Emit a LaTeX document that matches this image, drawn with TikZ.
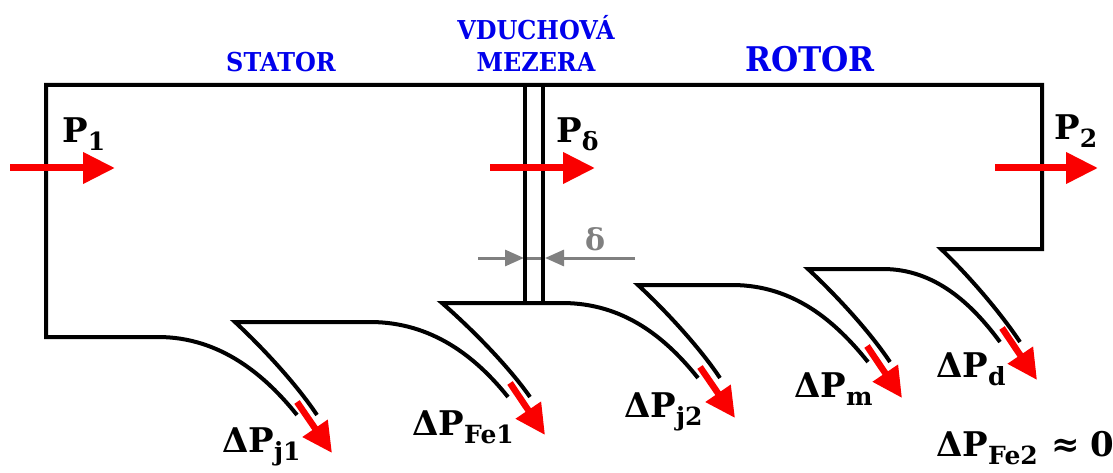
\documentclass[tikz,border=0pt]{standalone}
\usepackage{fontspec}
\usetikzlibrary{arrows.meta,calc}
\newfontfamily\ttlfont{DejaVu Serif}[FakeStretch=0.92]
\newfontfamily\lblfont{DejaVu Serif}
\definecolor{ttlblue}{RGB}{0,0,235}
\definecolor{arrred}{RGB}{250,0,0}
\definecolor{dimgray}{RGB}{128,128,128}
\newcommand\plbl[2]{#1\raisebox{-8pt}{\fontsize{25}{25}\selectfont #2}}
\begin{document}
\begin{tikzpicture}[x=1pt,y=-1pt,
  outline/.style={line width=4pt, black, line join=miter},
  flow/.style={line width=7pt, arrred, -{Triangle[length=32pt,width=30pt]}},
  loss/.style={line width=6.5pt, arrred, -{Triangle[length=30pt,width=29pt]}},
  gapdim/.style={line width=3pt, dimgray},
  gaptip/.style={line width=3pt, dimgray, -{Triangle[length=19pt,width=16pt]}},
  lbl/.style={inner sep=0pt, anchor=base west, font=\lblfont\bfseries\fontsize{34}{34}\selectfont},
  ttl/.style={inner sep=0pt, anchor=base, text=ttlblue, font=\ttlfont\bfseries\fontsize{26}{26}\selectfont}]
\useasboundingbox (0,0) rectangle (1113,473);

% ---- outline corners
\coordinate (tl) at (46,85);
\coordinate (tr) at (1042,85);
\coordinate (br) at (1042,249);
\coordinate (bl) at (46,337);
% stator bottom / j1
\coordinate (s1) at (158,337);  \coordinate (e1) at (297,415);
\coordinate (c1) at (235,322);  \coordinate (f1) at (317,415);
% Fe1
\coordinate (s2) at (370,322);  \coordinate (e2) at (508,397);
\coordinate (c2) at (442,303);  \coordinate (f2) at (530,397);
% j2
\coordinate (s3) at (562,303);  \coordinate (e3) at (698,378);
\coordinate (c3) at (638,285);  \coordinate (f3) at (720,378);
% m
\coordinate (s4) at (732,285);  \coordinate (e4) at (868,362);
\coordinate (c4) at (808,269);  \coordinate (f4) at (890,362);
% d
\coordinate (s5) at (883,269);  \coordinate (e5) at (1000,342);
\coordinate (c5) at (941,249);  \coordinate (f5) at (1020,342);
% air gap
\coordinate (g1t) at (525,85); \coordinate (g1b) at (525,303);
\coordinate (g2t) at (543,85); \coordinate (g2b) at (543,303);

% ---- gap dimension (behind)
\coordinate (dl) at (478,258); \coordinate (dr) at (635,258);
\coordinate (dla) at (524,258); \coordinate (dra) at (545,258);
\draw[gapdim] (dla) -- (dra);
\draw[gaptip] (dl) -- (dla);
\draw[gaptip] (dr) -- (dra);
\node[inner sep=0pt, anchor=base, text=dimgray, font=\lblfont\bfseries\fontsize{30}{30}\selectfont] (delta) at (595,250) {δ};

% ---- outline
\draw[outline] (e1) .. controls ($(e1)+(-32,-40)$) and ($(s1)+(62,0)$) .. (s1) -- (bl) -- (tl) -- (tr) -- (br) -- (c5)
  .. controls ($(c5)+(28,27)$) and ($(f5)+(-20,-30)$) .. (f5);
\draw[outline] (e5) .. controls ($(e5)+(-28,-38)$) and ($(s5)+(52,0)$) .. (s5) -- (c4)
  .. controls ($(c4)+(29,27)$) and ($(f4)+(-20,-30)$) .. (f4);
\draw[outline] (e4) .. controls ($(e4)+(-32,-40)$) and ($(s4)+(62,0)$) .. (s4) -- (c3)
  .. controls ($(c3)+(29,27)$) and ($(f3)+(-20,-30)$) .. (f3);
\draw[outline] (e3) .. controls ($(e3)+(-32,-40)$) and ($(s3)+(62,0)$) .. (s3) -- (c2)
  .. controls ($(c2)+(31,27)$) and ($(f2)+(-21,-30)$) .. (f2);
\draw[outline] (e2) .. controls ($(e2)+(-32,-40)$) and ($(s2)+(62,0)$) .. (s2) -- (c1)
  .. controls ($(c1)+(29,27)$) and ($(f1)+(-20,-30)$) .. (f1);
\draw[outline] (g1t) -- (g1b);
\draw[outline] (g2t) -- (g2b);

% ---- power flow arrows
\coordinate (p1a) at (10,168);  \coordinate (p1b) at (115,168);
\coordinate (pda) at (490,168); \coordinate (pdb) at (595,168);
\coordinate (p2a) at (995,168); \coordinate (p2b) at (1098,168);
\draw[flow] (p1a) -- (p1b);
\draw[flow] (pda) -- (pdb);
\draw[flow] (p2a) -- (p2b);

% ---- loss arrows
\coordinate (l1a) at (297,402);  \coordinate (l1b) at (332,453);
\coordinate (l2a) at (510,383);  \coordinate (l2b) at (545,435);
\coordinate (l3a) at (700,367);  \coordinate (l3b) at (735,418);
\coordinate (l4a) at (867,346);  \coordinate (l4b) at (902,398);
\coordinate (l5a) at (1002,328); \coordinate (l5b) at (1037,380);
\draw[loss] (l1a) -- (l1b);
\draw[loss] (l2a) -- (l2b);
\draw[loss] (l3a) -- (l3b);
\draw[loss] (l4a) -- (l4b);
\draw[loss] (l5a) -- (l5b);

% ---- titles
\node[ttl] (stator) at (281,72) {STATOR};
\node[ttl] (vduch) at (536,40) {VDUCHOVÁ};
\node[ttl] (mez) at (536,72) {MEZERA};
\node[ttl, font=\ttlfont\bfseries\fontsize{34}{34}\selectfont] (rotor) at (810,72) {ROTOR};

% ---- labels
\node[lbl] (P1) at (62,143) {\plbl{P}{1}};
\node[lbl] (Pd) at (556,143) {\plbl{P}{δ}};
\node[lbl] (P2) at (1054,140) {\plbl{P}{2}};
\node[lbl] (dj1) at (222,452) {\plbl{ΔP}{j1}};
\node[lbl] (dfe1) at (412,435) {\plbl{ΔP}{Fe1}};
\node[lbl] (dj2) at (624,417) {\plbl{ΔP}{j2}};
\node[lbl] (dm) at (794,397) {\plbl{ΔP}{m}};
\node[lbl] (dd) at (936,377) {\plbl{ΔP}{d}};
\node[lbl] (dfe2) at (936,456) {\plbl{ΔP}{Fe2}\hspace{14pt}≈\hspace{10pt}0};
\end{tikzpicture}
\end{document}
